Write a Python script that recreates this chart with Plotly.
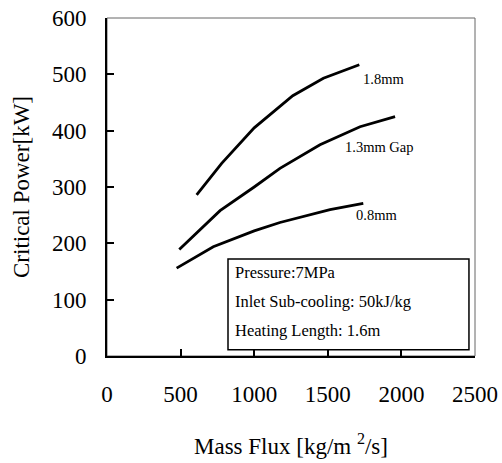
import plotly.graph_objects as go

# Critical power vs mass flux for three gap widths
flux_18 = [609, 779, 1000, 1262, 1470, 1714]
power_18 = [286, 342, 405, 462, 493, 517]

flux_13 = [491, 768, 1000, 1175, 1447, 1719, 1957]
power_13 = [189, 258, 300, 333, 375, 407, 425]

flux_08 = [473, 722, 1000, 1175, 1515, 1741]
power_08 = [156, 194, 222, 237, 260, 271]

# curve labels: text and anchor point (left edge, vertical middle)
label_text = ["1.8mm", "1.3mm Gap", "0.8mm"]
label_x = [1726, 1603, 1678]
label_y = [492, 371, 250]

x_ticks = [0, 500, 1000, 1500, 2000, 2500]
y_ticks = [0, 100, 200, 300, 400, 500, 600]

conditions = ["Pressure:7MPa", "Inlet Sub-cooling: 50kJ/kg", "Heating Length: 1.6m"]

FONT = "Liberation Serif, Times New Roman, serif"

fig = go.Figure()
for xs, ys in [(flux_18, power_18), (flux_13, power_13), (flux_08, power_08)]:
    fig.add_trace(go.Scatter(x=xs, y=ys, mode="lines",
                             line=dict(color="black", width=2.8),
                             showlegend=False))

for txt, lx, ly in zip(label_text, label_x, label_y):
    fig.add_annotation(x=lx, y=ly, text=txt, showarrow=False,
                       xanchor="left", yanchor="middle",
                       font=dict(family=FONT, size=14.5, color="black"))

# conditions box
fig.add_shape(type="rect", xref="x", yref="y", x0=822, x1=2459, y0=11, y1=172,
              line=dict(color="black", width=1.5), fillcolor="white", layer="above")
for txt, yv in zip(conditions, [149, 96, 46]):
    fig.add_annotation(x=856, y=yv, text=txt, showarrow=False, xanchor="left",
                       yanchor="middle", font=dict(family=FONT, size=16.5, color="black"))

# thin frame around the plotting area
fig.add_shape(type="rect", xref="paper", yref="paper", x0=0, x1=1, y0=0, y1=1,
              line=dict(color="#666666", width=1), layer="below")

fig.update_layout(
    width=502, height=463,
    margin=dict(l=107, r=27, t=18, b=107),
    paper_bgcolor="white", plot_bgcolor="white",
    font=dict(family=FONT, color="black"),
    xaxis=dict(range=[0, 2500], tickvals=x_ticks, ticks="inside", ticklen=7,
               tickwidth=1.5, tickcolor="black", showline=True, linecolor="black",
               linewidth=2, showgrid=False, zeroline=False, automargin=False,
               tickfont=dict(size=23, family=FONT), ticklabelstandoff=16,
               title=dict(text="Mass Flux [kg/m <sup>2</sup>/s]",
                          font=dict(size=23, family=FONT), standoff=32)),
    yaxis=dict(range=[0, 600], tickvals=y_ticks, ticks="inside", ticklen=7,
               tickwidth=1.5, tickcolor="black", showline=True, linecolor="black",
               linewidth=2, showgrid=False, zeroline=False, automargin=False,
               tickfont=dict(size=23, family=FONT), ticklabelstandoff=14,
               title=dict(text="Critical Power[kW]",
                          font=dict(size=23, family=FONT), standoff=16)),
)

fig.write_html("out.html")
